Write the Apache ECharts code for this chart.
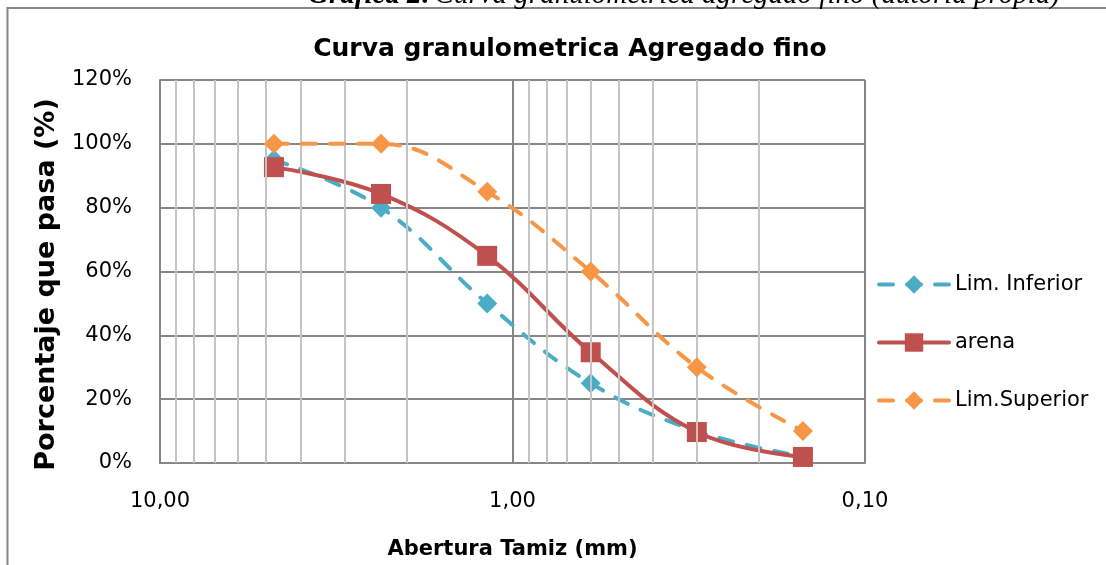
<!DOCTYPE html>
<html>
<head>
<meta charset="utf-8">
<script src="https://cdn.jsdelivr.net/npm/echarts@6/dist/echarts.min.js"></script>
<style>
  html, body { margin: 0; padding: 0; background: #fff; }
  #chart { width: 1106px; height: 565px; }
</style>
</head>
<body>
<div id="chart"></div>
<script>
// Sieve openings (mm)
const aberturas = [4.75, 2.36, 1.18, 0.6, 0.3, 0.15];
// Percent passing
const limInferior = [95, 80, 50, 25, 10, 2];
const arena = [92.7, 84.3, 64.9, 34.7, 9.7, 1.9];
const limSuperior = [100, 100, 85, 60, 30, 10];
// Minor (light) vertical gridline positions on the log axis
const minorGrid = [9, 8, 7, 6, 5, 4, 3, 2, 0.9, 0.8, 0.7, 0.6, 0.5, 0.4, 0.3, 0.2];
const seriesNames = ['Lim. Inferior', 'arena', 'Lim.Superior'];
const captionText = 'Curva granulometrica agregado fino (autoría propia)';

function pairs(xs, ys) { return xs.map((x, i) => [x, ys[i]]); }

const FONT = 'DejaVu Sans';
const chart = echarts.init(document.getElementById('chart'), null, { renderer: 'canvas' });

const dashed = [14, 14];

chart.setOption({
  animation: false,
  backgroundColor: '#ffffff',
  title: {
    text: 'Curva granulometrica Agregado fino',
    left: 565, textAlign: 'center', top: 29,
    textStyle: { fontFamily: FONT, fontSize: 25, fontWeight: 'bold', color: '#000', lineHeight: 30 }
  },
  grid: { left: 160, top: 80, width: 705, height: 383, containLabel: false },
  legend: {
    orient: 'vertical',
    left: 872, top: 269,
    itemWidth: 70, itemHeight: 23, itemGap: 37,
    data: seriesNames,
    lineStyle: { width: 4 },
    textStyle: { fontFamily: FONT, fontSize: 21, color: '#000', padding: [0, 0, 0, 1] },
    selectedMode: false
  },
  xAxis: {
    type: 'log', logBase: 10, min: 0.1, max: 10, inverse: true,
    name: 'Abertura Tamiz (mm)', nameLocation: 'middle', nameGap: 76,
    nameTextStyle: { fontFamily: FONT, fontSize: 21, fontWeight: 'bold', color: '#000' },
    axisLine: { show: true, lineStyle: { color: '#868686', width: 2 } },
    axisTick: { show: false },
    axisLabel: {
      fontFamily: FONT, fontSize: 21, color: '#000', margin: 28,
      formatter: v => v.toFixed(2).replace('.', ',')
    },
    splitLine: { show: true, lineStyle: { color: '#868686', width: 2 } }
  },
  yAxis: {
    type: 'value', min: 0, max: 120, interval: 20,
    name: 'Porcentaje que pasa (%)', nameLocation: 'middle', nameGap: 100,
    nameTextStyle: { fontFamily: FONT, fontSize: 27, fontWeight: 'bold', color: '#000', padding: [0, 26, 0, 0] },
    axisLine: { show: true, lineStyle: { color: '#868686', width: 2 } },
    axisTick: { show: false },
    axisLabel: { fontFamily: FONT, fontSize: 21, color: '#000', margin: 28, formatter: '{value}%' },
    splitLine: { show: true, lineStyle: { color: '#868686', width: 2 } }
  },
  series: [
    {
      name: 'minor-grid', type: 'line', data: pairs(aberturas, arena),
      showSymbol: false, lineStyle: { opacity: 0 }, silent: true, z: 1,
      markLine: {
        silent: true, symbol: 'none', animation: false,
        label: { show: false },
        lineStyle: { color: '#c4c4c4', width: 2, type: 'solid' },
        data: minorGrid.map(v => ({ xAxis: v }))
      }
    },
    {
      name: seriesNames[0], type: 'line', z: 3,
      data: pairs(aberturas, limInferior),
      smooth: 0.4,
      symbol: 'diamond', symbolSize: 20,
      itemStyle: { color: '#4BACC6' },
      lineStyle: { color: '#4BACC6', width: 4, type: dashed, cap: 'round' }
    },
    {
      name: seriesNames[1], type: 'line', z: 4,
      data: pairs(aberturas, arena),
      smooth: 0.4,
      symbol: 'rect', symbolSize: 20,
      itemStyle: { color: '#C0504D' },
      lineStyle: { color: '#C0504D', width: 4, type: 'solid', cap: 'round' }
    },
    {
      name: seriesNames[2], type: 'line', z: 5,
      data: pairs(aberturas, limSuperior),
      smooth: 0.4,
      symbol: 'diamond', symbolSize: 20,
      itemStyle: { color: '#F79646' },
      lineStyle: { color: '#F79646', width: 4, type: dashed, cap: 'round' }
    }
  ],
  graphic: [
    {
      type: 'polyline', silent: true, z: 100,
      shape: { points: [[7.5, 565], [7.5, 8], [1106, 8]] },
      style: { stroke: '#868686', lineWidth: 2, fill: null }
    },
    {
      type: 'text', silent: true, z: 100,
      x: 684, y: 10,
      style: {
        text: '{b|Gráfica 2:} {i|' + captionText + '}',
        rich: {
          b: { fontFamily: 'Liberation Serif', fontStyle: 'italic', fontWeight: 'bold', fontSize: 29, fill: '#000' },
          i: { fontFamily: 'Liberation Serif', fontStyle: 'italic', fontSize: 29, fill: '#000' }
        },
        align: 'center', verticalAlign: 'bottom'
      }
    }
  ]
});
</script>
</body>
</html>
